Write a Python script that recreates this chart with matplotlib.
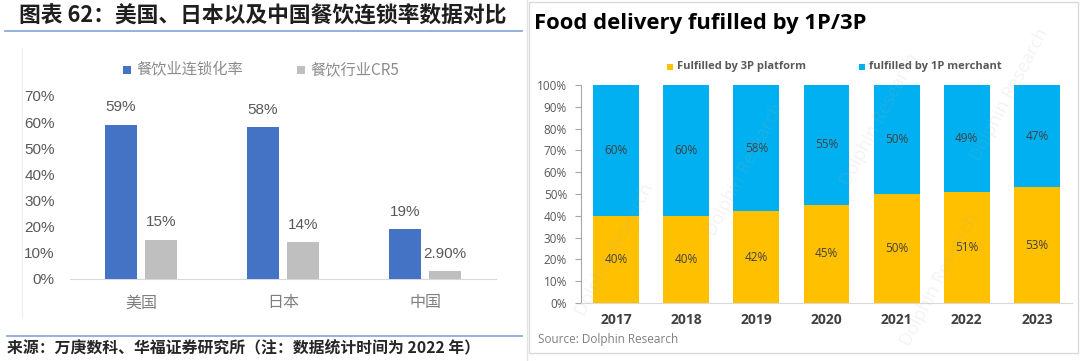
import matplotlib
matplotlib.use('Agg')
import matplotlib.pyplot as plt
from matplotlib.patches import Rectangle
from matplotlib.lines import Line2D

# ---- left panel data ----
countries = ['美国', '日本', '中国']
chain_rate = [0.59, 0.58, 0.19]
chain_labels = ['59%', '58%', '19%']
cr5 = [0.15, 0.14, 0.029]
cr5_labels = ['15%', '14%', '2.90%']
left_yticks = [0, 0.1, 0.2, 0.3, 0.4, 0.5, 0.6, 0.7]

# ---- right panel data ----
years = ['2017', '2018', '2019', '2020', '2021', '2022', '2023']
share_3p = [0.40, 0.40, 0.42, 0.45, 0.50, 0.51, 0.53]
share_1p = [0.60, 0.60, 0.58, 0.55, 0.50, 0.49, 0.47]
right_yticks = [0, 0.1, 0.2, 0.3, 0.4, 0.5, 0.6, 0.7, 0.8, 0.9, 1.0]

W, H = 1080, 361
CJK = ['Noto Sans CJK SC', 'DejaVu Sans']
LAT = ['Liberation Sans', 'DejaVu Sans']
SEG = ['Open Sans', 'DejaVu Sans']


def fx(px):
    return px / W


def fy(py):
    return 1 - py / H


def box(l, t, r, b):
    return [fx(l), fy(b), (r - l) / W, (b - t) / H]


fig = plt.figure(figsize=(W / 100, H / 100), dpi=100)
fig.patch.set_facecolor('white')

# ---- frames ----
fig.add_artist(Line2D([fx(527), fx(527)], [fy(0), fy(361)], transform=fig.transFigure,
                      color='#E3E3E3', lw=1))
fig.add_artist(Rectangle((fx(529), fy(353)), fx(1078) - fx(529), fy(2) - fy(353),
                         transform=fig.transFigure, fill=False, ec='#DADADA', lw=1))
fig.add_artist(Line2D([fx(22), fx(22)], [fy(48), fy(318)], transform=fig.transFigure,
                      color='#F0F0F0', lw=1))

# ================= left panel =================
fig.text(fx(19), fy(16), '图表 62：美国、日本以及中国餐饮连锁率数据对比', family=CJK,
         fontsize=15.7, fontweight='bold', color='#1E1E1E', va='center', ha='left')
fig.add_artist(Line2D([fx(5), fx(522)], [fy(31), fy(31)], transform=fig.transFigure,
                      color='#8EAADB', lw=1.3))
fig.add_artist(Line2D([fx(7), fx(522)], [fy(336), fy(336)], transform=fig.transFigure,
                      color='#8EAADB', lw=1.3))
fig.text(fx(7), fy(347), '来源：万庚数科、华福证券研究所（注：数据统计时间为 2022 年）', family=CJK,
         fontsize=11.4, fontweight='bold', color='#262626', va='center', ha='left')

c_blue, c_gray = '#4472C4', '#BFBFBF'
# legend
fig.add_artist(Rectangle((fx(123), fy(74)), 8 / W, 8 / H, transform=fig.transFigure,
                         color=c_blue, lw=0))
fig.text(fx(136), fy(70), '餐饮业连锁化率', family=CJK, fontsize=11, color='#8C8C8C',
         va='center', ha='left')
fig.add_artist(Rectangle((fx(297), fy(74)), 8 / W, 8 / H, transform=fig.transFigure,
                         color=c_gray, lw=0))
fig.text(fx(310), fy(70), '餐饮行业CR5', family=CJK, fontsize=11, color='#8C8C8C',
         va='center', ha='left')

ax1 = fig.add_axes(box(70, 96, 496, 279))
xs = range(len(countries))
off, bw = 0.141, 0.22
b1 = ax1.bar([x - off for x in xs], chain_rate, bw, color=c_blue, zorder=3)
b2 = ax1.bar([x + off for x in xs], cr5, bw, color=c_gray, zorder=3)
for bars, labs in ((b1, chain_labels), (b2, cr5_labels)):
    for r, lab in zip(bars, labs):
        ax1.annotate(lab, (r.get_x() + r.get_width() / 2, r.get_height()),
                     xytext=(0, 12.5), textcoords='offset points', ha='center', va='center',
                     fontsize=11, color='#595959', family=LAT)
ax1.set_xlim(-0.5, 2.5)
ax1.set_ylim(0, 0.7)
ax1.set_yticks(left_yticks)
ax1.set_yticklabels([f'{round(v * 100)}%' for v in left_yticks], family=LAT,
                    fontsize=11, color='#595959')
ax1.set_xticks(list(xs))
ax1.set_xticklabels(countries, family=CJK, fontsize=11.5, color='#7F7F7F')
ax1.tick_params(axis='y', length=0, pad=11)
ax1.tick_params(axis='x', length=0, pad=11)
for s in ('top', 'right', 'left'):
    ax1.spines[s].set_visible(False)
ax1.spines['bottom'].set_color('#D9D9D9')
ax1.patch.set_alpha(0)

# ================= right panel =================
fig.text(fx(534), fy(23), 'Food delivery fufilled by 1P/3P', family=SEG, fontsize=15.8,
         fontweight='bold', color='black', va='center', ha='left')

c_or, c_cy = '#FFC000', '#00B0F0'
fig.add_artist(Rectangle((fx(667), fy(70)), 6 / W, 6 / H, transform=fig.transFigure,
                         color=c_or, lw=0))
fig.text(fx(677), fy(66), 'Fulfilled by 3P platform', family=SEG, fontsize=8,
         fontweight='bold', color='#595959', va='center', ha='left')
fig.add_artist(Rectangle((fx(859), fy(70)), 6 / W, 6 / H, transform=fig.transFigure,
                         color=c_cy, lw=0))
fig.text(fx(869), fy(66), 'fulfilled by 1P merchant', family=SEG, fontsize=8,
         fontweight='bold', color='#595959', va='center', ha='left')

fig.text(fx(538), fy(339), 'Source: Dolphin Research', family=SEG, fontsize=8.5,
         color='#808080', va='center', ha='left')

# faint watermarks
for (wx, wy) in [(615, 250), (745, 170), (880, 120), (1010, 95), (940, 280)]:
    fig.text(fx(wx), fy(wy), 'Dolphin Research', family=SEG, fontsize=13,
             color='#B0B0B0', alpha=0.15, rotation=62, ha='center', va='center', zorder=10)

ax2 = fig.add_axes(box(581, 85, 1072, 303))
xr = range(len(years))
bw2 = 0.655
r1 = ax2.bar(list(xr), share_3p, bw2, color=c_or, zorder=3)
r2 = ax2.bar(list(xr), share_1p, bw2, bottom=share_3p, color=c_cy, zorder=3)
for bars in (r1, r2):
    for r in bars:
        h = r.get_height()
        ax2.text(r.get_x() + r.get_width() / 2, r.get_y() + h / 2, f'{round(h * 100)}%',
                 ha='center', va='center', fontsize=8.5, color='#404040', family=SEG, zorder=4)
ax2.set_xlim(-0.5, 6.5)
ax2.set_ylim(0, 1)
ax2.set_yticks(right_yticks)
ax2.set_yticklabels([f'{round(v * 100)}%' for v in right_yticks], family=SEG,
                    fontsize=8.5, color='#595959')
ax2.set_xticks(list(xr))
ax2.set_xticklabels(years, family=SEG, fontsize=10, fontweight='bold', color='#404040')
ax2.tick_params(axis='y', length=4, width=0.8, color='#A6A6A6', pad=6)
ax2.tick_params(axis='x', length=0, pad=7)
for s in ('top', 'right'):
    ax2.spines[s].set_visible(False)
ax2.spines['left'].set_color('#A6A6A6')
ax2.spines['bottom'].set_color('#D9D9D9')
ax2.patch.set_alpha(0)

fig.savefig('out.png', dpi=100, facecolor='white')
